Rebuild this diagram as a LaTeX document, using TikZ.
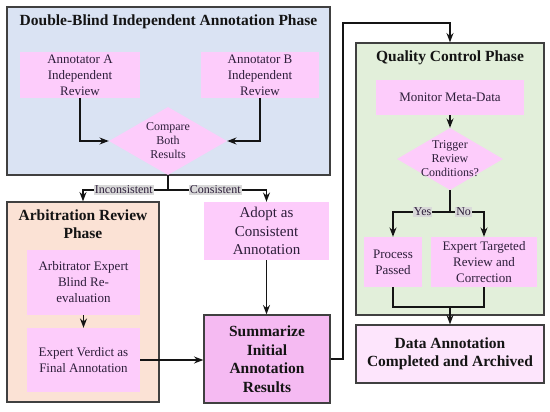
\documentclass[tikz,border=0pt]{standalone}
\usepackage{fontspec}
\setmainfont{Liberation Serif}
\usetikzlibrary{shapes.geometric, arrows.meta, positioning, calc}
\definecolor{myink}{RGB}{45,30,58}
\definecolor{myedge}{RGB}{64,64,64}
\definecolor{mydark}{RGB}{20,20,20}
\definecolor{hdrblue}{RGB}{218,227,243}
\definecolor{hdrorange}{RGB}{251,226,213}
\definecolor{hdrgreen}{RGB}{226,239,218}
\definecolor{mypink}{RGB}{253,204,251}
\definecolor{mymagenta}{RGB}{245,186,242}
\definecolor{mylight}{RGB}{253,229,252}
\definecolor{lblgray}{RGB}{217,217,217}
\tikzset{
  phase/.style={rectangle, draw=myedge, line width=1.3pt, inner sep=0pt},
  title/.style={align=center, font=\fontsize{15.5}{18.5}\selectfont\bfseries, text=mydark},
  pinkblock/.style={rectangle, fill=mypink, align=center, inner sep=1pt,
    font=\fontsize{13}{16}\selectfont, text=myink},
  sumblock/.style={rectangle, draw=myedge, fill=mymagenta, align=center, inner sep=1pt,
    line width=1.3pt, font=\fontsize{15.5}{18.5}\selectfont\bfseries, text=mydark},
  decision/.style={diamond, fill=mypink, inner sep=0pt},
  dectext/.style={align=center, font=\fontsize{12}{14}\selectfont, text=myink},
  lbl/.style={fill=lblgray, inner sep=1pt, font=\fontsize{12}{14}\selectfont, text=myink},
  arrow/.style={-Stealth, line width=1.4pt, color=mydark},
  line/.style={line width=1.4pt, color=mydark}
}
\begin{document}
\begin{tikzpicture}[x=1pt, y=-1pt]
  \useasboundingbox (0,0) rectangle (550,412);

  % Double-Blind Independent Annotation Phase
  \node[phase, fill=hdrblue, minimum width=323pt, minimum height=168pt] (blind) at (168.5,91) {};
  \node[title] (blindtitle) at (168.5,22) {Double-Blind Independent Annotation Phase};
  \node[pinkblock, minimum width=120pt, minimum height=46pt] (annA) at (80,75) {Annotator A\\Independent\\Review};
  \node[pinkblock, minimum width=118pt, minimum height=46pt] (annB) at (260,75) {Annotator B\\Independent\\Review};
  \node[decision, minimum width=118pt, minimum height=68pt,
    label={[dectext]center:{Compare\\Both\\Results}}] (cmp) at (168,141) {};

  % Arbitration Review Phase
  \node[phase, fill=hdrorange, minimum width=152pt, minimum height=200pt] (arb) at (83,302) {};
  \node[title] (arbtitle) at (83,224) {Arbitration Review\\Phase};
  \node[pinkblock, minimum width=113pt, minimum height=65pt] (blindre) at (83.5,282.5) {Arbitrator Expert\\Blind Re-\\evaluation};
  \node[pinkblock, minimum width=113pt, minimum height=64pt] (verdict) at (83.5,360) {Expert Verdict as\\Final Annotation};

  % Consistent branch and summary
  \node[pinkblock, font=\fontsize{15}{18.5}\selectfont, minimum width=125pt, minimum height=58pt] (adopt) at (266.5,231) {Adopt as\\Consistent\\Annotation};
  \node[sumblock, minimum width=126pt, minimum height=88pt] (summ) at (267,359) {Summarize\\Initial\\Annotation\\Results};

  % Quality Control Phase
  \node[phase, fill=hdrgreen, minimum width=188pt, minimum height=272pt] (qc) at (450,179) {};
  \node[title] (qctitle) at (450,58) {Quality Control Phase};
  \node[pinkblock, minimum width=148pt, minimum height=35pt] (monitor) at (450,97.5) {Monitor Meta-Data};
  \node[decision, minimum width=106pt, minimum height=62pt,
    label={[dectext]center:{Trigger\\Review\\Conditions?}}] (trig) at (450,159) {};
  \node[pinkblock, minimum width=58pt, minimum height=50pt] (pass) at (393,262) {Process\\Passed};
  \node[pinkblock, minimum width=106pt, minimum height=50pt] (expert) at (484,262) {Expert Targeted\\Review and\\Correction};
  \node[sumblock, fill=mylight, minimum width=188pt, minimum height=58pt] (done) at (450,354) {Data Annotation\\Completed and Archived};

  % Connectors
  \coordinate (split) at (168,190);
  \coordinate (loopup) at (343,23);
  \coordinate (fork) at (450,212);
  \coordinate (merge) at (450,307);

  \draw[arrow] (annA.south) |- (cmp.west);
  \draw[arrow] (annB.south) |- (cmp.east);
  \draw[line] (cmp.south) -- (split);
  \draw[arrow] (split) -| node[lbl, pos=0.26] {Inconsistent} (arb.north);
  \draw[arrow] (split) -| node[lbl, pos=0.24] {Consistent} (adopt.north);
  \draw[arrow] (blindre) -- (verdict);
  \draw[arrow] (adopt.south) -- (adopt.south |- summ.north);
  \draw[arrow] (verdict.east) -- (verdict.east -| summ.west);
  \draw[arrow] (summ.east) -| (loopup) -| (qc.north);
  \draw[arrow] (monitor) -- (trig);
  \draw[line] (trig.south) -- (fork);
  \draw[arrow] (fork) -| node[lbl, pos=0.24] {Yes} (pass.north);
  \draw[arrow] (fork) -| node[lbl, pos=0.2] {No} (expert.north);
  \draw[line] (pass.south) |- (merge);
  \draw[line] (expert.south) |- (merge);
  \draw[arrow] (merge) -- (done.north);
\end{tikzpicture}
\end{document}
